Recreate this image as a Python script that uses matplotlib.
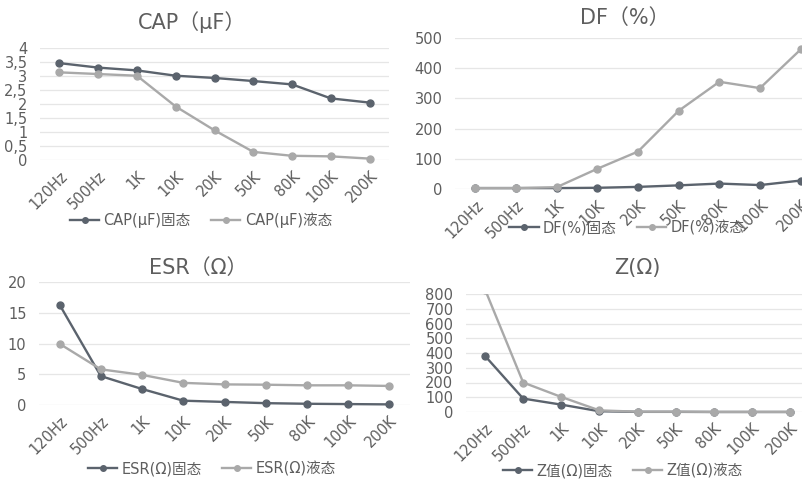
import matplotlib
matplotlib.use("Agg")
import matplotlib.pyplot as plt
from matplotlib.patches import Rectangle

plt.rcParams['font.family'] = ['DejaVu Sans', 'Noto Sans CJK SC']

freqs = ['120Hz', '500Hz', '1K', '10K', '20K', '50K', '80K', '100K', '200K']

cap_solid = [3.46, 3.30, 3.20, 3.01, 2.93, 2.82, 2.70, 2.20, 2.05]
cap_liquid = [3.13, 3.07, 3.01, 1.91, 1.06, 0.29, 0.15, 0.13, 0.05]
cap_ticks = [0, 0.5, 1, 1.5, 2, 2.5, 3, 3.5, 4]
cap_ticklabels = ['0', '0,5', '1', '1,5', '2', '2,5', '3', '3,5', '4']

df_solid = [3, 3, 3, 4, 7, 12, 18, 13, 28]
df_liquid = [3, 3, 6, 67, 124, 259, 355, 334, 462]
df_ticks = [0, 100, 200, 300, 400, 500]

esr_solid = [16.3, 4.7, 2.6, 0.7, 0.5, 0.3, 0.2, 0.15, 0.1]
esr_liquid = [9.95, 5.8, 4.9, 3.6, 3.35, 3.3, 3.2, 3.2, 3.1]
esr_ticks = [0, 5, 10, 15, 20]

z_solid = [380, 91, 50, 5, 1, 1, 0, 0, 0]
z_liquid = [830, 200, 102, 11, 2, 2, 1, 1, 1]
z_ticks = [0, 100, 200, 300, 400, 500, 600, 700, 800]

DARK = '#5b636d'
LIGHT = '#a9a9a9'
TEXT = '#5e5e5e'
GRID = '#e6e6e6'

W, H = 802, 483
fig = plt.figure(figsize=(W / 100, H / 100), dpi=100)


def px_axes(left, top, right, bottom):
    return fig.add_axes([left / W, 1 - bottom / H, (right - left) / W, (bottom - top) / H])


def panel(rect, solid, liquid, ticks, ticklabels, title, title_xy, label, legend_xy, clip_top=False):
    ax = px_axes(*rect)
    x = range(len(freqs))
    for vals, color, name in ((solid, DARK, label + '固态'), (liquid, LIGHT, label + '液态')):
        line, = ax.plot(x, vals, color=color, lw=1.7, marker='o', ms=5, label=name,
                        clip_on=clip_top)
        if clip_top:
            # cut off only what rises above the top gridline
            box = Rectangle((-0.2, -0.3), 1.4, 1.3, transform=ax.transAxes)
            line.set_clip_path(box)
    ax.set_xlim(-0.5, len(freqs) - 0.5)
    ax.set_ylim(ticks[0], ticks[-1])
    ax.set_yticks(ticks)
    ax.set_yticklabels(ticklabels)
    ax.set_xticks(list(x))
    ax.set_xticklabels(freqs, rotation=45, ha='right', va='top', rotation_mode='anchor')
    ax.tick_params(length=0, colors=TEXT, labelsize=10.5)
    ax.tick_params(axis='y', pad=9)
    ax.tick_params(axis='x', pad=6)
    for s in ax.spines.values():
        s.set_visible(False)
    ax.grid(axis='y', color=GRID, lw=0.9)
    ax.set_axisbelow(True)
    ax.patch.set_alpha(0)
    fig.text(title_xy[0] / W, 1 - title_xy[1] / H, title, ha='center', va='center',
             fontsize=15, color=TEXT)
    fig.legend(*ax.get_legend_handles_labels(), loc='center',
               bbox_to_anchor=(legend_xy[0] / W, 1 - legend_xy[1] / H), ncol=2,
               frameon=False, fontsize=10.5, labelcolor=TEXT, handlelength=2.0,
               handletextpad=0.3, columnspacing=1.4, markerscale=0.8)
    return ax


panel((40, 48, 389, 160), cap_solid, cap_liquid, cap_ticks, cap_ticklabels,
      'CAP（μF）', (192, 22), 'CAP(μF)', (201, 220))
panel((455, 38, 821, 189), df_solid, df_liquid, df_ticks, [str(t) for t in df_ticks],
      'DF（%）', (625, 18), 'DF(%)', (627, 228))
panel((39, 282, 410, 405), esr_solid, esr_liquid, esr_ticks, [str(t) for t in esr_ticks],
      'ESR（Ω）', (198, 268), 'ESR(Ω)', (212, 469))
panel((466, 294, 809, 412), z_solid, z_liquid, z_ticks, [str(t) for t in z_ticks],
      'Z(Ω)', (637, 268), 'Z值(Ω)', (623, 471), clip_top=True)

fig.savefig('out.png', dpi=100)
